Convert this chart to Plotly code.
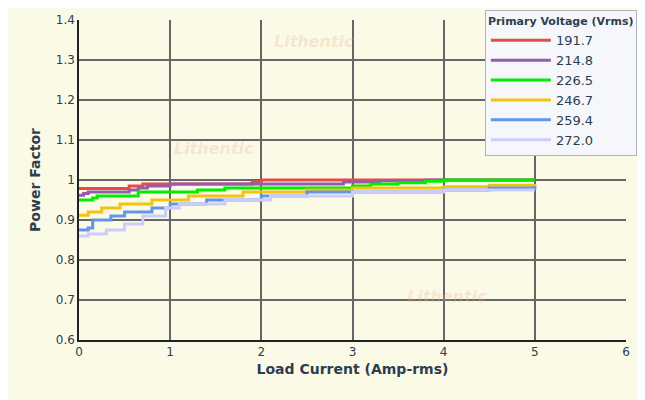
import plotly.graph_objects as go

# ---- data ----
voltages = ['191.7', '214.8', '226.5', '246.7', '259.4', '272.0']
colors = ['#e74c3c', '#9b59b6', '#00ee00', '#f1c40f', '#6495ed', '#ccccff']

x_1917 = [0, 0.55, 0.7, 0.8, 1.9, 2.0, 5]
pf_1917 = [0.979, 0.985, 0.99, 0.99, 0.995, 1.0, 1.0]
x_2148 = [0, 0.05, 0.1, 0.55, 0.65, 0.75, 1.0, 1.5, 2.9, 3.3, 3.8, 5]
pf_2148 = [0.962, 0.966, 0.97, 0.975, 0.98, 0.985, 0.99, 0.99, 0.995, 0.998, 1.0, 1.0]
x_2265 = [0, 0.15, 0.2, 0.65, 1.3, 1.6, 2.6, 3.0, 3.2, 3.5, 3.8, 4.0, 5]
pf_2265 = [0.95, 0.955, 0.96, 0.97, 0.975, 0.98, 0.98, 0.985, 0.99, 0.993, 0.997, 1.0, 1.0]
x_2467 = [0, 0.1, 0.25, 0.45, 0.8, 1.2, 1.8, 2.5, 3.0, 4.0, 4.5, 5]
pf_2467 = [0.912, 0.92, 0.93, 0.94, 0.95, 0.96, 0.97, 0.975, 0.98, 0.983, 0.987, 0.99]
x_2594 = [0, 0.1, 0.15, 0.35, 0.5, 0.8, 1.0, 1.4, 2.0, 2.5, 4.0, 4.5, 5]
pf_2594 = [0.875, 0.88, 0.9, 0.91, 0.92, 0.93, 0.94, 0.95, 0.96, 0.97, 0.975, 0.98, 0.985]
x_2720 = [0, 0.1, 0.3, 0.5, 0.7, 0.95, 1.1, 1.6, 2.1, 3.0, 4.0, 5]
pf_2720 = [0.86, 0.865, 0.875, 0.89, 0.91, 0.93, 0.94, 0.95, 0.96, 0.97, 0.975, 0.975]

xs = [x_1917, x_2148, x_2265, x_2467, x_2594, x_2720]
ys = [pf_1917, pf_2148, pf_2265, pf_2467, pf_2594, pf_2720]

fig = go.Figure()
for name, c, x, y in zip(voltages, colors, xs, ys):
    fig.add_trace(go.Scatter(x=x, y=y, name=name, mode='lines', line_shape='hv',
                             line=dict(color=c, width=3)))

# faint watermarks
for wx, wy in [(0.43, 0.97), (0.17, 0.6), (0.75, 0.1)]:
    fig.add_annotation(x=wx, y=wy, xref='paper', yref='paper', showarrow=False,
                       text='<i><b>Lithentic</b></i>', font=dict(size=16, color='rgba(240,180,150,0.3)'))

bg = '#fafae6'
axis_font = dict(family='DejaVu Sans', size=14, color='#2c3e50')
fig.update_layout(
    width=645, height=400, paper_bgcolor=bg, plot_bgcolor=bg,
    margin=dict(l=71, r=27, t=12, b=68, autoexpand=False),
    font=dict(family='DejaVu Sans', size=11, color='#2c3e50'),
    legend=dict(title=dict(text='<b>Primary Voltage (Vrms)</b>', side='top', font=dict(size=11)),
                x=0.975, y=0.995, xref='container', yref='container',
                xanchor='right', yanchor='top',
                bgcolor='#f5f7fa', bordercolor='#aab4be', borderwidth=1,
                font=dict(size=13), itemwidth=60, tracegroupgap=0),
    showlegend=True,
)
fig.update_xaxes(range=[0, 6], dtick=1, showgrid=True, gridcolor='#666', gridwidth=1.5,
                 zeroline=False, showline=True, linecolor='#222', linewidth=1.5,
                 title=dict(text='<b>Load Current (Amp-rms)</b>', font=axis_font, standoff=6),
                 tickfont=dict(size=12))
fig.update_yaxes(range=[0.6, 1.4], dtick=0.1, showgrid=True, gridcolor='#666', gridwidth=1.5,
                 zeroline=False, showline=True, linecolor='#222', linewidth=1.5,
                 title=dict(text='<b>Power Factor</b>', font=axis_font, standoff=12),
                 tickfont=dict(size=12), tickformat='~g')

fig.write_html("out.html")
